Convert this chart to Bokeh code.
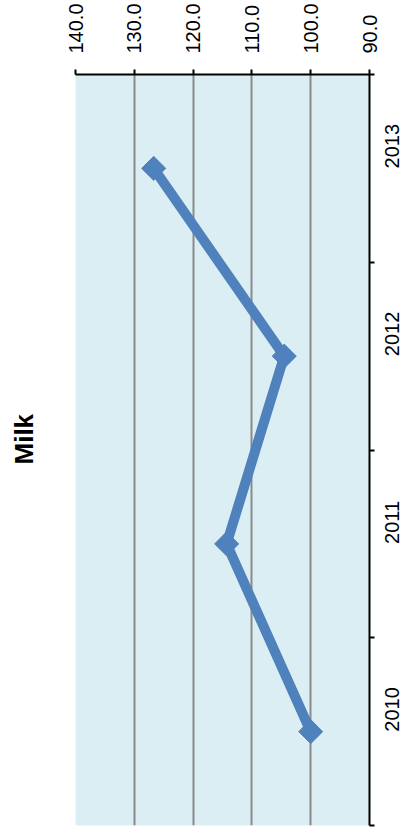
from math import pi
from bokeh.plotting import figure
from bokeh.models import Range1d, FixedTicker, NumeralTickFormatter, Title, ColumnDataSource
from bokeh.embed import file_html
from bokeh.resources import INLINE

# ---- data ----
years = ["2010", "2011", "2012", "2013"]
milk = [100.0, 114.3, 104.5, 126.7]
value_ticks = [90, 100, 110, 120, 130, 140]
chart_title = "Milk"

pos = [i + 0.5 for i in range(len(years))]
src = ColumnDataSource(dict(v=milk, y=pos))

FONT = "Liberation Sans"

p = figure(width=408, height=830, output_backend="svg", toolbar_location=None,
           x_range=Range1d(140, 90), y_range=Range1d(0, len(years)),
           x_axis_location="above", y_axis_location="right",
           min_border_left=73, min_border_top=72, min_border_bottom=5, min_border_right=35)
p.background_fill_color = "#DBEEF4"
p.border_fill_color = "white"
p.outline_line_color = None

# value axis (top)
xa = p.xaxis[0]
xa.ticker = FixedTicker(ticks=value_ticks)
xa.formatter = NumeralTickFormatter(format="0.0")
xa.major_label_orientation = pi / 2
xa.major_label_text_font = FONT
xa.major_label_text_font_size = "20px"
xa.major_label_text_color = "black"
xa.major_label_standoff = 16
xa.major_tick_out = 5
xa.major_tick_in = 0
xa.minor_tick_out = 0
xa.minor_tick_in = 0
xa.axis_line_width = 2
xa.major_tick_line_width = 2
xa.axis_line_color = "black"

# category axis (right)
ya = p.yaxis[0]
ya.ticker = FixedTicker(ticks=pos, minor_ticks=list(range(len(years) + 1)))
ya.major_label_overrides = {pp: yr for pp, yr in zip(pos, years)}
ya.major_label_orientation = pi / 2
ya.major_label_text_font = FONT
ya.major_label_text_font_size = "20px"
ya.major_label_text_color = "black"
ya.major_label_standoff = 17
ya.major_tick_out = 0
ya.major_tick_in = 0
ya.minor_tick_out = 5
ya.minor_tick_in = 0
ya.minor_tick_line_color = "black"
ya.minor_tick_line_width = 2
ya.axis_line_width = 2
ya.axis_line_color = "black"

p.xgrid.ticker = FixedTicker(ticks=value_ticks)
p.xgrid.grid_line_color = "#8A8A8A"
p.xgrid.grid_line_width = 2
p.ygrid.grid_line_color = None

# blank spacer panel next to the plot area, then the rotated chart title further out
p.add_layout(Title(text=" ", text_font_size="10px", standoff=14), "left")
p.add_layout(Title(text=chart_title, text_font=FONT, text_font_size="26px",
                   text_font_style="bold", text_color="black", align="left",
                   vertical_align="top", standoff=16, offset=361), "left")

p.line("v", "y", source=src, line_width=10, color="#4F81BD")
p.scatter("v", "y", source=src, marker="square", angle=pi / 4, size=17,
          color="#4F81BD")

open("out.html", "w").write(file_html(p, INLINE))
